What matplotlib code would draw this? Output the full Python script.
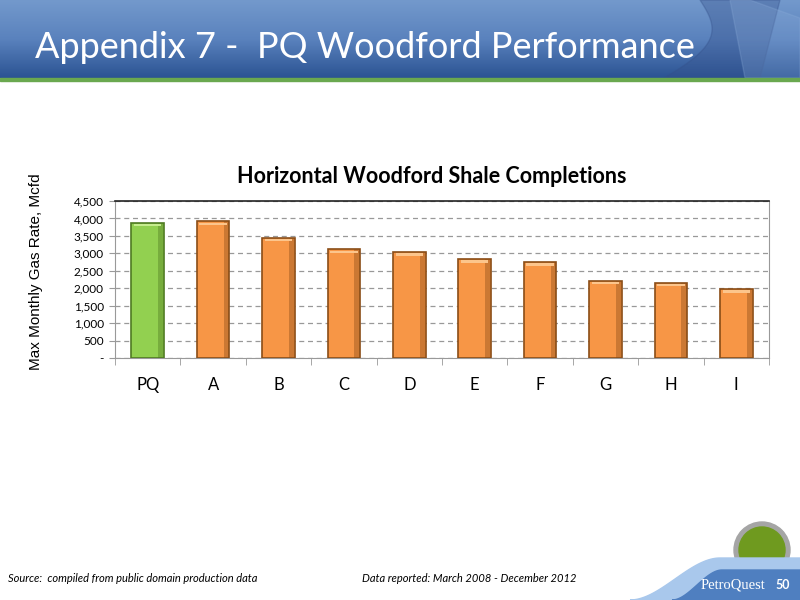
import numpy as np
import matplotlib.pyplot as plt
from matplotlib.colors import LinearSegmentedColormap
from matplotlib.patches import Rectangle, Polygon, Ellipse

# data
wells = ['PQ', 'A', 'B', 'C', 'D', 'E', 'F', 'G', 'H', 'I']
max_rate = [3880, 3920, 3450, 3120, 3040, 2840, 2760, 2220, 2160, 1980]
yticks = [0, 500, 1000, 1500, 2000, 2500, 3000, 3500, 4000, 4500]
ytick_labels = ['-', '500', '1,000', '1,500', '2,000', '2,500', '3,000', '3,500', '4,000', '4,500']

W, H = 800, 600
fig = plt.figure(figsize=(8, 6), dpi=100)

# background axes in pixel coords for slide decoration
bg = fig.add_axes([0, 0, 1, 1], zorder=-1)
bg.set_xlim(0, W)
bg.set_ylim(H, 0)
bg.axis('off')

# header band (gradient)
grad = np.linspace(0, 1, 100).reshape(-1, 1)
cmap = LinearSegmentedColormap.from_list('h', ['#7399cc', '#5a82bd', '#2b5393'])
bg.imshow(grad, aspect='auto', cmap=cmap, extent=[0, W, 78, 0], zorder=1)
# faint swirl in the header
t = np.linspace(0, 1, 50)
sw1 = [(700 + 30 * np.sin(3 * s) - 40 * s, 78 * s) for s in t] + \
      [(760 + 20 * s, 78 * (1 - s)) for s in t]
bg.add_patch(Polygon(sw1, closed=True, color='#34508a', alpha=0.35, zorder=2))
sw2 = [(730 + 15 * s, 78 * s) for s in t] + [(800, 78 - 60 * s) for s in t] + \
      [(750 - 10 * s, 0) for s in t]
bg.add_patch(Polygon(sw2, closed=True, color='#8fb0dc', alpha=0.25, zorder=2))
bg.set_xlim(0, W)
bg.set_ylim(H, 0)
bg.add_patch(Rectangle((0, 78), W, 3, color='#6aa84f', zorder=3))
bg.text(35, 47, 'Appendix 7 -  PQ Woodford Performance', color='white',
        fontsize=26, family='Lato', va='center', ha='left', zorder=4)

# footer swoosh
s = np.linspace(0, 1, 60)
ease = 3 * s ** 2 - 2 * s ** 3
outer = [(630 + 90 * v, 600 - 42 * e) for v, e in zip(s, ease)] + [(800, 558), (800, 600)]
bg.add_patch(Polygon(outer, closed=True, color='#a9c8ec', zorder=2))
inner = [(672 + 50 * v, 600 - 30 * e) for v, e in zip(s, ease)] + [(800, 570), (800, 600)]
bg.add_patch(Polygon(inner, closed=True, color='#4f7fc0', zorder=3))
bg.add_patch(Ellipse((762, 550), 56, 56, color='#a5a5a5', zorder=1))
bg.add_patch(Ellipse((762, 550), 46, 46, color='#6f9a1f', zorder=1))
bg.text(733, 585, 'PetroQuest', fontsize=10.5, family='Liberation Serif',
        color='white', va='center', ha='center', zorder=6)
bg.text(783, 585, '50', fontsize=9, fontweight='bold', family='Lato',
        color='white', va='center', ha='center', zorder=6)

bg.text(8, 578, 'Source:  compiled from public domain production data',
        fontsize=8, style='italic', family='Lato', va='center')
bg.text(362, 578, 'Data reported: March 2008 - December 2012',
        fontsize=8, style='italic', family='Lato', va='center')
bg.text(36, 272, 'Max Monthly Gas Rate, Mcfd', rotation=90,
        family='Liberation Sans', fontsize=11, ha='center', va='center')

# main chart
ax = fig.add_axes([115 / W, 1 - 358 / H, (769 - 115) / W, (358 - 201) / H])
x = np.arange(len(wells))
colors = ['#92d050'] + ['#f79646'] * (len(wells) - 1)
edges = ['#4f7a22'] + ['#8a4d17'] * (len(wells) - 1)
tops = ['#c6ec8e'] + ['#fcc58c'] * (len(wells) - 1)
ax.bar(x, max_rate, width=0.5, color=colors, edgecolor=edges, linewidth=1.2, zorder=3)
ax.bar(x + 0.2, max_rate, width=0.08, color=edges, alpha=0.4, zorder=4)
ax.bar(x, [70] * len(wells), width=0.42, bottom=np.array(max_rate) - 110, color=tops, zorder=4)

ax.set_xlim(-0.5, len(wells) - 0.5)
ax.set_ylim(0, 4500)
ax.set_yticks(yticks)
ax.set_yticklabels(ytick_labels, fontsize=8.5, family='Lato')
ax.set_xticks(x)
ax.set_xticklabels(wells, fontsize=12, family='Lato')
ax.set_xticks(np.arange(-0.5, len(wells)), minor=True)
ax.tick_params(axis='x', which='major', length=0, pad=14)
ax.tick_params(axis='x', which='minor', length=5, color='#999999')
ax.tick_params(axis='y', length=4, color='#999999', pad=4)
ax.yaxis.grid(True, linestyle=(0, (4, 3)), color='#999999', linewidth=0.9, zorder=0)
for sp in ['left', 'bottom', 'right']:
    ax.spines[sp].set_color('#999999')
ax.spines['top'].set_color('#222222')
ax.spines['top'].set_linewidth(1.2)
ax.set_title('Horizontal Woodford Shale Completions', fontsize=15.5, fontweight='bold',
             family='Lato', pad=13, x=0.485)

fig.savefig('out.png', dpi=100)
